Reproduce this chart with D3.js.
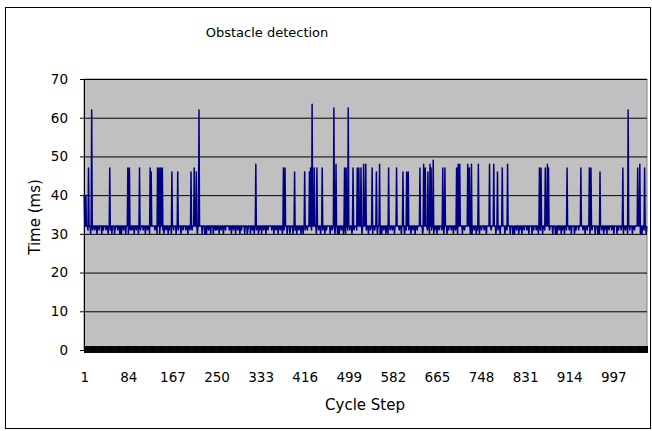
<!DOCTYPE html>
<html>
<head>
<meta charset="utf-8">
<script src="https://cdn.jsdelivr.net/npm/d3@7"></script>
<style>
  body { margin: 0; background: #fff; }
  svg { display: block; }
</style>
</head>
<body>
<div id="chart"></div>
<script>
// number of cycle steps in the run
const N = 1060;

// baseline timing, one digit per step: 0 = 30 ms, 1 = 31 ms, 2 = 32 ms
const baselineDigits = `
2220222122 2202221222 1222022212 2220221222 2122202221
2202222012 2221222022 0222122202 2220222122 1222022212
2202221222 2122202221 2220221222 2221222022 2202222012
0222122202 1222022212 2220222122 2202221222 2122202221
2221222022 2220221222 2202222012 0222122202 2220222122
1222022212 2202221222 2221222022 2122202221 2220221222
2202222012 2220222122 0222122202 1222022212 2202221222
2221222022 2122202221 2220221222 2202222012 2220222122
0222122202 2202221222 1222022212 2221222022 2122202221
2220221222 2220222122 2202222012 0222122202 2202221222
1222022212 2221222022 2220221222 2122202221 2220222122
2202222012 0222122202 2202221222 1222022212 2221222022
2220221222 2122202221 2220222122 2202222012 2202221222
0222122202 1222022212 2221222022 2220221222 2122202221
2220222122 2202221222 2202222012 0222122202 1222022212
2221222022 2220221222 2122202221 2220222122 2202221222
2202222012 0222122202 1222022212 2221222022 2220221222
2122202221 2220222122 2202221222 2202222012 0222122202
1222022212 2221222022 2220221222 2122202221 2220222122
2202221222 2202222012 0222122202 1222022212 2221222022
2220221222 2122202221 2220222122 2202221222 2202222012
0222122202 1222022212 2221222022 2220221222 2122202221
`.replace(/\s/g, '');

// peaks: [cycle step, ms]
const spikes = [
  [1, 40], [4, 40], [9, 47], [15, 62], [49, 47], [83, 47], [86, 47], [105, 47],
  [125, 47], [127, 46], [139, 47], [142, 47], [145, 47], [148, 47], [166, 46],
  [177, 46], [202, 46], [208, 47], [212, 46], [217, 62], [324, 48], [376, 47],
  [379, 47], [397, 46], [416, 46], [425, 46], [427, 47], [430, 63.5], [434, 47],
  [439, 47], [449, 47], [471, 62.5], [475, 48], [491, 47], [494, 47], [498, 62.5],
  [507, 47], [515, 47], [518, 47], [522, 47], [527, 48], [531, 48], [543, 47],
  [551, 46], [557, 48], [574, 47], [589, 47], [601, 46], [608, 46], [611, 46],
  [633, 47], [640, 48], [643, 47], [648, 46], [652, 48], [654, 47], [658, 49],
  [676, 47], [680, 47], [702, 47], [705, 48], [708, 48], [723, 48], [726, 47],
  [730, 48], [743, 48], [764, 48], [772, 48], [779, 46], [788, 47], [798, 48],
  [858, 47], [861, 47], [869, 47], [873, 48], [875, 47], [910, 47], [936, 47],
  [952, 47], [955, 47], [972, 46], [1015, 47], [1025, 62], [1043, 47], [1047, 48],
  [1056, 47]
];

const xTickLabels = [1, 84, 167, 250, 333, 416, 499, 582, 665, 748, 831, 914, 997];
const yTicks = [0, 10, 20, 30, 40, 50, 60, 70];

const values = d3.range(N).map(i => 30 + +baselineDigits[i]);
spikes.forEach(([step, v]) => { values[step - 1] = v; });
const series = values.map((v, i) => ({ step: i + 1, v }));

const W = 652, H = 431;
const plot = { left: 84, right: 647, top: 79, bottom: 350 };

const svg = d3.select('#chart').append('svg')
  .attr('width', W)
  .attr('height', H);

// chart frame
svg.append('rect')
  .attr('x', 5.5).attr('y', 7.5)
  .attr('width', 645).attr('height', 421)
  .attr('fill', '#fff')
  .attr('stroke', '#000');

const x = d3.scaleLinear().domain([0.5, N + 0.5]).range([plot.left, plot.right]);
const y = d3.scaleLinear().domain([0, 70]).range([plot.bottom, plot.top]);

svg.append('rect')
  .attr('x', plot.left).attr('y', plot.top)
  .attr('width', plot.right - plot.left).attr('height', plot.bottom - plot.top)
  .attr('fill', '#c0c0c0')
  .attr('stroke', '#808080');

// gridlines
svg.append('g')
  .attr('transform', `translate(${plot.left},0)`)
  .call(d3.axisLeft(y).tickValues(yTicks.slice(1)).tickSize(-(plot.right - plot.left)).tickFormat(''))
  .call(g => g.select('.domain').remove())
  .call(g => g.selectAll('line').attr('stroke', '#000'));

// y axis
svg.append('g')
  .attr('transform', `translate(${plot.left},0)`)
  .call(d3.axisLeft(y).tickValues(yTicks).tickSize(4).tickPadding(12))
  .call(g => g.select('.domain').attr('stroke', '#000'))
  .call(g => g.selectAll('text')
    .attr('font-family', 'DejaVu Sans')
    .attr('font-size', 13.5)
    .attr('fill', '#000'));

// line
svg.append('path')
  .datum(series)
  .attr('fill', 'none')
  .attr('stroke', '#000080')
  .attr('stroke-width', 1.5)
  .attr('stroke-linejoin', 'round')
  .attr('d', d3.line().x(d => x(d.step)).y(d => y(d.v)));

// x axis: one tick between every pair of steps, crossing the axis
svg.append('g')
  .attr('transform', `translate(0,${plot.bottom - 4})`)
  .call(d3.axisBottom(x).tickValues(d3.range(N + 1).map(k => k + 0.5)).tickSize(7).tickFormat(''))
  .call(g => g.select('.domain').remove())
  .call(g => g.selectAll('line').attr('stroke', '#000'));

svg.append('line')
  .attr('x1', plot.left).attr('x2', plot.right)
  .attr('y1', plot.bottom).attr('y2', plot.bottom)
  .attr('stroke', '#000');

svg.append('g')
  .attr('transform', `translate(0,${plot.bottom})`)
  .call(d3.axisBottom(x).tickValues(xTickLabels).tickSize(0).tickPadding(22))
  .call(g => g.select('.domain').remove())
  .call(g => g.selectAll('text')
    .attr('font-family', 'DejaVu Sans')
    .attr('font-size', 13.5)
    .attr('fill', '#000'));

// titles
svg.append('text')
  .attr('x', 267).attr('y', 37)
  .attr('text-anchor', 'middle')
  .attr('font-family', 'DejaVu Sans')
  .attr('font-size', 13)
  .text('Obstacle detection');

svg.append('text')
  .attr('x', 365).attr('y', 410)
  .attr('text-anchor', 'middle')
  .attr('font-family', 'DejaVu Sans')
  .attr('font-size', 15)
  .text('Cycle Step');

svg.append('text')
  .attr('transform', 'translate(40,217) rotate(-90)')
  .attr('text-anchor', 'middle')
  .attr('font-family', 'DejaVu Sans')
  .attr('font-size', 15)
  .text('Time (ms)');
</script>
</body>
</html>
